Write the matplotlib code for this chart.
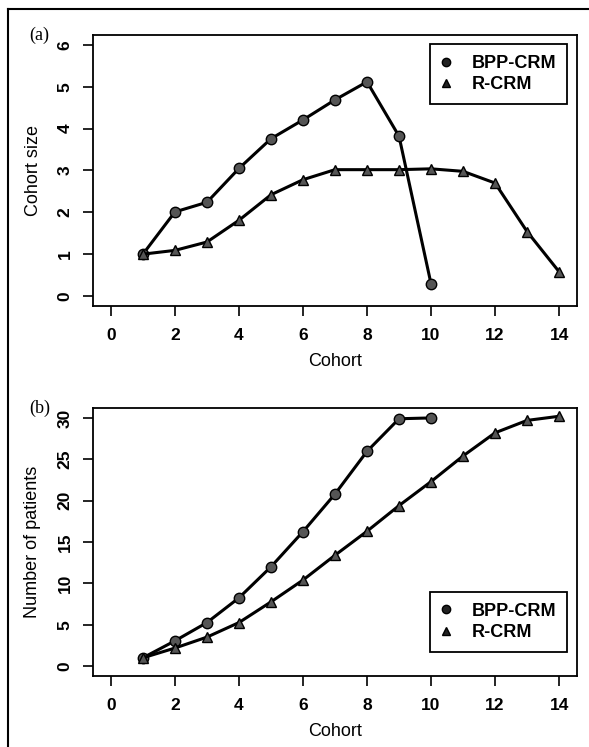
import numpy as np
import matplotlib.pyplot as plt
from matplotlib.lines import Line2D

# data
cohort_bpp = [1, 2, 3, 4, 5, 6, 7, 8, 9, 10]
cohort_r = [1, 2, 3, 4, 5, 6, 7, 8, 9, 10, 11, 12, 13, 14]
size_bpp = [1.0, 2.01, 2.24, 3.05, 3.76, 4.21, 4.69, 5.12, 3.82, 0.29]
size_r = [1.0, 1.09, 1.29, 1.81, 2.42, 2.78, 3.02, 3.02, 3.02, 3.04, 2.98, 2.70, 1.54, 0.58]
npat_bpp = [1.0, 3.05, 5.26, 8.25, 12.0, 16.25, 20.8, 25.96, 29.9, 30.0]
npat_r = [1.0, 2.18, 3.5, 5.26, 7.76, 10.4, 13.4, 16.3, 19.4, 22.3, 25.4, 28.2, 29.7, 30.2]
xticks = [0, 2, 4, 6, 8, 10, 12, 14]
legend_labels = ['BPP-CRM', 'R-CRM']

plt.rcParams['font.family'] = ['Liberation Sans', 'DejaVu Sans']

W, H = 589, 747
fig = plt.figure(figsize=(W/100, H/100), dpi=100)

# outer frame (only left and top edges are in the picture)
fig.add_artist(Line2D([8/W, 8/W], [0, 1-9/H], transform=fig.transFigure, color='black', lw=1.5))
fig.add_artist(Line2D([8/W, 1], [1-9/H, 1-9/H], transform=fig.transFigure, color='black', lw=1.5))

ax1 = fig.add_axes([93/W, 1-306/H, 484/W, 271/H])
ax2 = fig.add_axes([93/W, 1-676/H, 484/W, 268/H])

line_kw = dict(color='black', lw=2.2, markerfacecolor='#555555', markeredgecolor='black',
               markeredgewidth=1.0, markersize=7.5)


def style(ax, yticks, ylabel):
    ax.set_xticks(xticks)
    ax.set_yticks(yticks)
    ax.tick_params(direction='out', length=7.5, width=1.2, labelsize=12.5)
    ax.tick_params(axis='x', pad=8)
    ax.tick_params(axis='y', labelrotation=90, pad=7)
    for lab in ax.get_xticklabels() + ax.get_yticklabels():
        lab.set_fontweight('bold')
    for lab in ax.get_yticklabels():
        lab.set_va('center')
    for sp in ax.spines.values():
        sp.set_linewidth(1.3)
    ax.set_xlabel('Cohort', fontsize=13)
    ax.set_ylabel(ylabel, fontsize=13)
    ax.xaxis.set_label_coords(0.5, -55/ax.bbox.height)
    ax.xaxis.label.set_va('center')
    ax.yaxis.set_label_coords(-60/484, 0.5)
    ax.yaxis.label.set_va('center')


ax1.plot(cohort_bpp, size_bpp, marker='o', **line_kw)
ax1.plot(cohort_r, size_r, marker='^', **line_kw)
ax1.set_xlim(-0.56, 14.56)
ax1.set_ylim(-0.24, 6.24)
style(ax1, [0, 1, 2, 3, 4, 5, 6], 'Cohort size')

ax2.plot(cohort_bpp, npat_bpp, marker='o', **line_kw)
ax2.plot(cohort_r, npat_r, marker='^', **line_kw)
ax2.set_xlim(-0.56, 14.56)
ax2.set_ylim(-1.2, 31.2)
style(ax2, [0, 5, 10, 15, 20, 25, 30], 'Number of patients')

legend_handles = [
    Line2D([], [], ls='none', marker='o', color='black', markerfacecolor='#222222', markersize=6),
    Line2D([], [], ls='none', marker='^', color='black', markerfacecolor='#222222', markersize=6),
]
for ax, loc, anchor in [(ax1, 'upper right', (474/484, (306-44)/271)),
                        (ax2, 'lower right', (474/484, (676-652)/268))]:
    leg = ax.legend(legend_handles, legend_labels, loc=loc, bbox_to_anchor=anchor,
                    prop={'size': 13, 'weight': 'bold'},
                    frameon=True, fancybox=False, edgecolor='black', framealpha=1,
                    borderpad=0.6, handlelength=0.6, handletextpad=1.1,
                    labelspacing=0.25, borderaxespad=0)
    leg.get_frame().set_linewidth(1.3)

serif = ['Liberation Serif', 'DejaVu Serif']
fig.text(39.5/W, 1-35.5/H, '(a)', fontsize=13, family=serif, ha='center', va='center')
fig.text(39.5/W, 1-408.5/H, '(b)', fontsize=13, family=serif, ha='center', va='center')

fig.savefig('out.png', dpi=100)
